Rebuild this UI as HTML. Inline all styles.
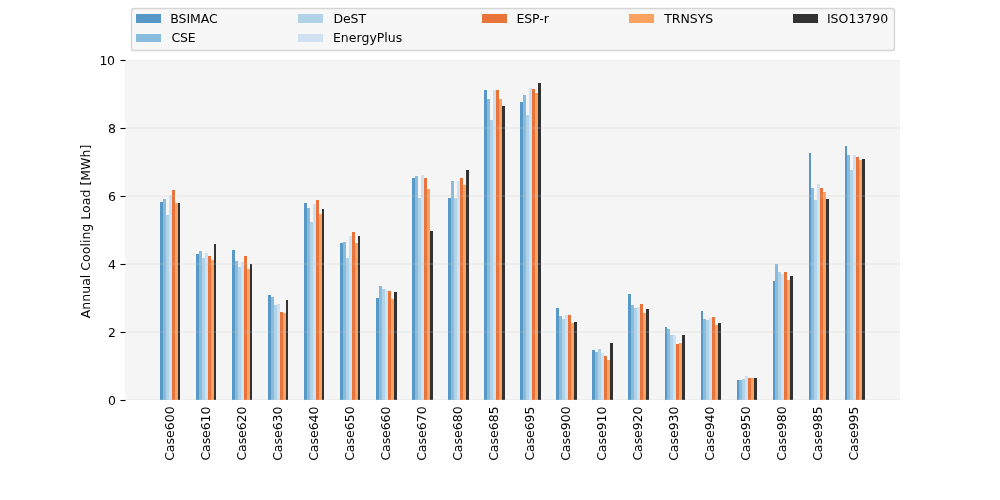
<!DOCTYPE html>
<html lang="en"><head><meta charset="utf-8"><title>Annual Cooling Load</title>
<style>html,body{margin:0;padding:0;background:#fff}body{width:1000px;height:500px;overflow:hidden}svg{display:block}text{font-family:"DejaVu Sans","Liberation Sans",sans-serif;font-size:12.5px;fill:#000}.b{shape-rendering:crispEdges}</style></head><body>
<svg width="1000" height="500" viewBox="0 0 1000 500">
<rect width="1000" height="500" fill="#fff"/>
<rect class="b" x="125" y="60" width="775" height="340" fill="#f5f5f5"/>
<g class="b">
<rect x="160" y="202" width="3" height="198" fill="#5898c7"/>
<rect x="163" y="199" width="3" height="201" fill="#88bcdc"/>
<rect x="166" y="215" width="3" height="185" fill="#b0d3e7"/>
<rect x="169" y="195" width="3" height="205" fill="#d0e1f1"/>
<rect x="172" y="190" width="3" height="210" fill="#e8743a"/>
<rect x="175" y="203" width="3" height="197" fill="#fba260"/>
<rect x="178" y="203" width="2" height="197" fill="#323232"/>
<rect x="196" y="254" width="3" height="146" fill="#5898c7"/>
<rect x="199" y="251" width="3" height="149" fill="#88bcdc"/>
<rect x="202" y="258" width="3" height="142" fill="#b0d3e7"/>
<rect x="205" y="253" width="3" height="147" fill="#d0e1f1"/>
<rect x="208" y="256" width="3" height="144" fill="#e8743a"/>
<rect x="211" y="260" width="3" height="140" fill="#fba260"/>
<rect x="214" y="244" width="2" height="156" fill="#323232"/>
<rect x="232" y="250" width="3" height="150" fill="#5898c7"/>
<rect x="235" y="261" width="3" height="139" fill="#88bcdc"/>
<rect x="238" y="267" width="3" height="133" fill="#b0d3e7"/>
<rect x="241" y="262" width="3" height="138" fill="#d0e1f1"/>
<rect x="244" y="256" width="3" height="144" fill="#e8743a"/>
<rect x="247" y="269" width="3" height="131" fill="#fba260"/>
<rect x="250" y="264" width="2" height="136" fill="#323232"/>
<rect x="268" y="295" width="3" height="105" fill="#5898c7"/>
<rect x="271" y="297" width="3" height="103" fill="#88bcdc"/>
<rect x="274" y="305" width="3" height="95" fill="#b0d3e7"/>
<rect x="277" y="304" width="3" height="96" fill="#d0e1f1"/>
<rect x="280" y="312" width="3" height="88" fill="#e8743a"/>
<rect x="283" y="313" width="3" height="87" fill="#fba260"/>
<rect x="286" y="300" width="2" height="100" fill="#323232"/>
<rect x="304" y="203" width="3" height="197" fill="#5898c7"/>
<rect x="307" y="208" width="3" height="192" fill="#88bcdc"/>
<rect x="310" y="222" width="3" height="178" fill="#b0d3e7"/>
<rect x="313" y="204" width="3" height="196" fill="#d0e1f1"/>
<rect x="316" y="200" width="3" height="200" fill="#e8743a"/>
<rect x="319" y="214" width="3" height="186" fill="#fba260"/>
<rect x="322" y="209" width="2" height="191" fill="#323232"/>
<rect x="340" y="243" width="3" height="157" fill="#5898c7"/>
<rect x="343" y="242" width="3" height="158" fill="#88bcdc"/>
<rect x="346" y="258" width="3" height="142" fill="#b0d3e7"/>
<rect x="349" y="236" width="3" height="164" fill="#d0e1f1"/>
<rect x="352" y="232" width="3" height="168" fill="#e8743a"/>
<rect x="355" y="243" width="3" height="157" fill="#fba260"/>
<rect x="358" y="236" width="2" height="164" fill="#323232"/>
<rect x="376" y="298" width="3" height="102" fill="#5898c7"/>
<rect x="379" y="286" width="3" height="114" fill="#88bcdc"/>
<rect x="382" y="289" width="3" height="111" fill="#b0d3e7"/>
<rect x="385" y="290" width="3" height="110" fill="#d0e1f1"/>
<rect x="388" y="291" width="3" height="109" fill="#e8743a"/>
<rect x="391" y="299" width="3" height="101" fill="#fba260"/>
<rect x="394" y="292" width="3" height="108" fill="#323232"/>
<rect x="412" y="178" width="3" height="222" fill="#5898c7"/>
<rect x="415" y="176" width="3" height="224" fill="#88bcdc"/>
<rect x="418" y="198" width="3" height="202" fill="#b0d3e7"/>
<rect x="421" y="175" width="3" height="225" fill="#d0e1f1"/>
<rect x="424" y="178" width="3" height="222" fill="#e8743a"/>
<rect x="427" y="189" width="3" height="211" fill="#fba260"/>
<rect x="430" y="231" width="3" height="169" fill="#323232"/>
<rect x="448" y="198" width="3" height="202" fill="#5898c7"/>
<rect x="451" y="181" width="3" height="219" fill="#88bcdc"/>
<rect x="454" y="198" width="3" height="202" fill="#b0d3e7"/>
<rect x="457" y="181" width="3" height="219" fill="#d0e1f1"/>
<rect x="460" y="178" width="3" height="222" fill="#e8743a"/>
<rect x="463" y="185" width="3" height="215" fill="#fba260"/>
<rect x="466" y="170" width="3" height="230" fill="#323232"/>
<rect x="484" y="90" width="3" height="310" fill="#5898c7"/>
<rect x="487" y="99" width="3" height="301" fill="#88bcdc"/>
<rect x="490" y="120" width="3" height="280" fill="#b0d3e7"/>
<rect x="493" y="90" width="3" height="310" fill="#d0e1f1"/>
<rect x="496" y="90" width="3" height="310" fill="#e8743a"/>
<rect x="499" y="99" width="3" height="301" fill="#fba260"/>
<rect x="502" y="106" width="3" height="294" fill="#323232"/>
<rect x="520" y="102" width="3" height="298" fill="#5898c7"/>
<rect x="523" y="95" width="3" height="305" fill="#88bcdc"/>
<rect x="526" y="115" width="3" height="285" fill="#b0d3e7"/>
<rect x="529" y="88" width="3" height="312" fill="#d0e1f1"/>
<rect x="532" y="89" width="3" height="311" fill="#e8743a"/>
<rect x="535" y="93" width="3" height="307" fill="#fba260"/>
<rect x="538" y="83" width="3" height="317" fill="#323232"/>
<rect x="556" y="308" width="3" height="92" fill="#5898c7"/>
<rect x="559" y="316" width="3" height="84" fill="#88bcdc"/>
<rect x="562" y="319" width="3" height="81" fill="#b0d3e7"/>
<rect x="565" y="315" width="3" height="85" fill="#d0e1f1"/>
<rect x="568" y="315" width="3" height="85" fill="#e8743a"/>
<rect x="571" y="323" width="3" height="77" fill="#fba260"/>
<rect x="574" y="322" width="3" height="78" fill="#323232"/>
<rect x="592" y="350" width="3" height="50" fill="#5898c7"/>
<rect x="595" y="352" width="3" height="48" fill="#88bcdc"/>
<rect x="598" y="349" width="3" height="51" fill="#b0d3e7"/>
<rect x="601" y="353" width="3" height="47" fill="#d0e1f1"/>
<rect x="604" y="356" width="3" height="44" fill="#e8743a"/>
<rect x="607" y="360" width="3" height="40" fill="#fba260"/>
<rect x="610" y="343" width="3" height="57" fill="#323232"/>
<rect x="628" y="294" width="3" height="106" fill="#5898c7"/>
<rect x="631" y="305" width="3" height="95" fill="#88bcdc"/>
<rect x="634" y="308" width="3" height="92" fill="#b0d3e7"/>
<rect x="637" y="307" width="3" height="93" fill="#d0e1f1"/>
<rect x="640" y="304" width="3" height="96" fill="#e8743a"/>
<rect x="643" y="313" width="3" height="87" fill="#fba260"/>
<rect x="646" y="309" width="3" height="91" fill="#323232"/>
<rect x="665" y="327" width="2" height="73" fill="#5898c7"/>
<rect x="667" y="329" width="3" height="71" fill="#88bcdc"/>
<rect x="670" y="335" width="3" height="65" fill="#b0d3e7"/>
<rect x="673" y="335" width="3" height="65" fill="#d0e1f1"/>
<rect x="676" y="344" width="3" height="56" fill="#e8743a"/>
<rect x="679" y="343" width="3" height="57" fill="#fba260"/>
<rect x="682" y="335" width="3" height="65" fill="#323232"/>
<rect x="701" y="311" width="2" height="89" fill="#5898c7"/>
<rect x="703" y="319" width="3" height="81" fill="#88bcdc"/>
<rect x="706" y="320" width="3" height="80" fill="#b0d3e7"/>
<rect x="709" y="318" width="3" height="82" fill="#d0e1f1"/>
<rect x="712" y="317" width="3" height="83" fill="#e8743a"/>
<rect x="715" y="325" width="3" height="75" fill="#fba260"/>
<rect x="718" y="323" width="3" height="77" fill="#323232"/>
<rect x="737" y="380" width="2" height="20" fill="#5898c7"/>
<rect x="739" y="380" width="3" height="20" fill="#88bcdc"/>
<rect x="742" y="379" width="3" height="21" fill="#b0d3e7"/>
<rect x="745" y="376" width="3" height="24" fill="#d0e1f1"/>
<rect x="748" y="378" width="3" height="22" fill="#e8743a"/>
<rect x="751" y="378" width="3" height="22" fill="#fba260"/>
<rect x="754" y="378" width="3" height="22" fill="#323232"/>
<rect x="773" y="281" width="2" height="119" fill="#5898c7"/>
<rect x="775" y="264" width="3" height="136" fill="#88bcdc"/>
<rect x="778" y="272" width="3" height="128" fill="#b0d3e7"/>
<rect x="781" y="274" width="3" height="126" fill="#d0e1f1"/>
<rect x="784" y="272" width="3" height="128" fill="#e8743a"/>
<rect x="787" y="280" width="3" height="120" fill="#fba260"/>
<rect x="790" y="276" width="3" height="124" fill="#323232"/>
<rect x="809" y="153" width="2" height="247" fill="#5898c7"/>
<rect x="811" y="188" width="3" height="212" fill="#88bcdc"/>
<rect x="814" y="200" width="3" height="200" fill="#b0d3e7"/>
<rect x="817" y="184" width="3" height="216" fill="#d0e1f1"/>
<rect x="820" y="188" width="3" height="212" fill="#e8743a"/>
<rect x="823" y="192" width="3" height="208" fill="#fba260"/>
<rect x="826" y="199" width="3" height="201" fill="#323232"/>
<rect x="845" y="146" width="2" height="254" fill="#5898c7"/>
<rect x="847" y="155" width="3" height="245" fill="#88bcdc"/>
<rect x="850" y="170" width="3" height="230" fill="#b0d3e7"/>
<rect x="853" y="155" width="3" height="245" fill="#d0e1f1"/>
<rect x="856" y="157" width="3" height="243" fill="#e8743a"/>
<rect x="859" y="160" width="3" height="240" fill="#fba260"/>
<rect x="862" y="159" width="3" height="241" fill="#323232"/>
</g>
<defs><clipPath id="ax"><rect x="125" y="60" width="775" height="340"/></clipPath></defs>
<g clip-path="url(#ax)" stroke="#cccccc" stroke-opacity="0.17" stroke-width="2.083">
<line x1="125" y1="400" x2="900" y2="400"/>
<line x1="125" y1="332" x2="900" y2="332"/>
<line x1="125" y1="264" x2="900" y2="264"/>
<line x1="125" y1="196" x2="900" y2="196"/>
<line x1="125" y1="128" x2="900" y2="128"/>
<line x1="125" y1="60" x2="900" y2="60"/>
</g>
<g stroke="#000" stroke-width="1.111">
<line x1="120.5" y1="400.5" x2="125.5" y2="400.5"/>
<line x1="120.5" y1="332.5" x2="125.5" y2="332.5"/>
<line x1="120.5" y1="264.5" x2="125.5" y2="264.5"/>
<line x1="120.5" y1="196.5" x2="125.5" y2="196.5"/>
<line x1="120.5" y1="128.5" x2="125.5" y2="128.5"/>
<line x1="120.5" y1="60.5" x2="125.5" y2="60.5"/>
</g>
<path d="M134 50.5 L892 50.5 Q894.5 50.5 894.5 48 L894.5 11 Q894.5 8.5 892 8.5 L134 8.5 Q131.5 8.5 131.5 11 L131.5 48 Q131.5 50.5 134 50.5 Z" fill="#f5f5f5" fill-opacity="0.8" stroke="#cccccc" stroke-opacity="0.8" stroke-width="1.389"/>
<g class="b">
<rect x="136" y="14" width="25" height="9" fill="#5898c7"/>
<rect x="136" y="34" width="25" height="8" fill="#88bcdc"/>
<rect x="298" y="14" width="25" height="9" fill="#b0d3e7"/>
<rect x="298" y="34" width="25" height="8" fill="#d0e1f1"/>
<rect x="482" y="14" width="25" height="9" fill="#e8743a"/>
<rect x="629" y="14" width="25" height="9" fill="#fba260"/>
<rect x="793" y="14" width="25" height="9" fill="#323232"/>
</g>
<text transform="translate(173.76 460.86) rotate(-90)">Case600</text>
<text letter-spacing="-0.075" transform="translate(209.78 460.60) rotate(-90)">Case610</text>
<text letter-spacing="-0.075" transform="translate(245.80 460.60) rotate(-90)">Case620</text>
<text letter-spacing="-0.025" transform="translate(281.82 460.85) rotate(-90)">Case630</text>
<text letter-spacing="-0.025" transform="translate(317.84 460.85) rotate(-90)">Case640</text>
<text transform="translate(353.86 460.86) rotate(-90)">Case650</text>
<text letter-spacing="-0.075" transform="translate(389.88 460.60) rotate(-90)">Case660</text>
<text transform="translate(425.90 460.86) rotate(-90)">Case670</text>
<text transform="translate(461.92 460.86) rotate(-90)">Case680</text>
<text transform="translate(497.94 460.86) rotate(-90)">Case685</text>
<text letter-spacing="-0.075" transform="translate(533.96 460.60) rotate(-90)">Case695</text>
<text transform="translate(569.98 460.86) rotate(-90)">Case900</text>
<text letter-spacing="-0.025" transform="translate(606.00 460.85) rotate(-90)">Case910</text>
<text letter-spacing="-0.075" transform="translate(642.02 460.60) rotate(-90)">Case920</text>
<text letter-spacing="-0.025" transform="translate(678.04 460.85) rotate(-90)">Case930</text>
<text letter-spacing="-0.025" transform="translate(714.06 460.85) rotate(-90)">Case940</text>
<text transform="translate(750.08 460.86) rotate(-90)">Case950</text>
<text transform="translate(786.10 460.86) rotate(-90)">Case980</text>
<text transform="translate(822.12 460.86) rotate(-90)">Case985</text>
<text letter-spacing="-0.075" transform="translate(858.14 460.60) rotate(-90)">Case995</text>
<text text-anchor="end" x="115.90" y="404.80">0</text>
<text text-anchor="end" x="115.90" y="336.80">2</text>
<text text-anchor="end" x="115.90" y="268.80">4</text>
<text text-anchor="end" x="115.90" y="200.80">6</text>
<text text-anchor="end" x="115.90" y="132.80">8</text>
<text letter-spacing="-0.400" text-anchor="end" x="114.50" y="64.80">10</text>
<text letter-spacing="0.025" text-anchor="middle" transform="translate(90.22 231.47) rotate(-90)">Annual Cooling Load [MWh]</text>
<text letter-spacing="-0.050" x="170.25" y="23.40">BSIMAC</text>
<text letter-spacing="-0.100" x="171.40" y="41.75">CSE</text>
<text letter-spacing="-0.050" x="333.41" y="23.40">DeST</text>
<text letter-spacing="0.013" x="332.96" y="41.75">EnergyPlus</text>
<text letter-spacing="-0.100" x="516.45" y="23.40">ESP-r</text>
<text letter-spacing="-0.050" x="664.26" y="23.40">TRNSYS</text>
<text letter-spacing="0.025" x="826.89" y="23.40">ISO13790</text>
</svg></body></html>
